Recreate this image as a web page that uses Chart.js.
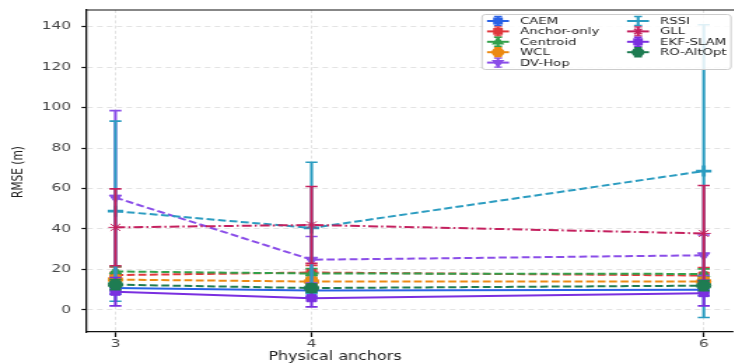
<!DOCTYPE html>
<html>
<head>
<meta charset="utf-8">
<script src="https://cdn.jsdelivr.net/npm/chart.js@4/dist/chart.umd.min.js"></script>
<style>
  html, body { margin: 0; padding: 0; background: #fff; overflow: hidden; }
  /* the figure is rendered narrow and widened horizontally */
  #wrap { position: relative; width: 532px; height: 363px; transform: scaleX(1.4); transform-origin: 0 0; }
</style>
</head>
<body>
<div id="wrap"><canvas id="c"></canvas></div>
<script>
const K = 1.4; // horizontal widening of the figure

// Number of physical anchors (x positions)
const anchors = [3, 4, 6];
const yTicks = [0, 20, 40, 60, 80, 100, 120, 140];

// Mean RMSE (m) and its standard deviation per method
const caemMean      = [10.8, 9.6, 10.0];
const caemStd       = [3.0, 3.0, 3.0];
const anchorMean    = [17.2, 18.5, 17.0];
const anchorStd     = [4.0, 3.5, 4.0];
const centroidMean  = [19.0, 18.0, 17.8];
const centroidStd   = [2.5, 2.5, 2.5];
const wclMean       = [15.0, 14.0, 14.0];
const wclStd        = [2.0, 2.0, 2.0];
const dvhopMean     = [55.5, 24.8, 27.0];
const dvhopStd      = [43.0, 11.5, 10.0];
const rssiMean      = [48.8, 40.5, 68.6];
const rssiStd       = [44.5, 32.5, 72.3];
const gllMean       = [40.8, 42.0, 37.8];
const gllStd        = [19.0, 19.0, 23.7];
const ekfMean       = [9.0, 5.8, 8.3];
const ekfStd        = [7.0, 4.3, 6.3];
const roMean        = [12.5, 10.8, 12.0];
const roStd         = [2.5, 2.0, 2.5];

const D = [5.7, 2.5];
const methods = [
  { name: 'CAEM',        mean: caemMean,     std: caemStd,     color: '#2a62e6', dash: [],             point: 'rect',     rot: 0 },
  { name: 'Anchor-only', mean: anchorMean,   std: anchorStd,   color: '#e0383c', dash: D,              point: 'rect',     rot: 0 },
  { name: 'Centroid',    mean: centroidMean, std: centroidStd, color: '#32a04a', dash: D,              point: 'triangle', rot: 0 },
  { name: 'WCL',         mean: wclMean,      std: wclStd,      color: '#ec8a12', dash: D,              point: 'circle',   rot: 0 },
  { name: 'DV-Hop',      mean: dvhopMean,    std: dvhopStd,    color: '#8a4de8', dash: D,              point: 'triangle', rot: 180 },
  { name: 'RSSI',        mean: rssiMean,     std: rssiStd,     color: '#2b9cc0', dash: D,              point: 'cross',    rot: 0 },
  { name: 'GLL',         mean: gllMean,      std: gllStd,      color: '#c4205e', dash: [7, 2.2, 1.5, 2.2], point: 'star', rot: 0 },
  { name: 'EKF-SLAM',    mean: ekfMean,      std: ekfStd,      color: '#7a2fe0', dash: [],             point: 'rect',     rot: 0 },
  { name: 'RO-AltOpt',   mean: roMean,       std: roStd,       color: '#1e7c52', dash: D,              point: 'circle',   rot: 0 }
];

const datasets = methods.map((m, i) => ({
  label: m.name,
  data: anchors.map((a, j) => ({ x: a, y: m.mean[j] })),
  err: m.std,
  borderColor: m.color,
  backgroundColor: m.color,
  borderWidth: 2,
  borderDash: m.dash,
  pointStyle: m.point,
  pointRotation: m.rot,
  pointRadius: m.point === 'cross' ? 5.5 : 5,
  pointBorderWidth: m.point === 'cross' ? 2.8 : 1,
  pointBackgroundColor: m.color,
  pointBorderColor: m.color,
  tension: 0,
  fill: false,
  order: methods.length - i
}));

// Vertical error bars with caps, drawn under each series' own line
const errorBars = {
  id: 'errorBars',
  beforeDatasetDraw(chart, args) {
    const ds = chart.data.datasets[args.index];
    const xs = chart.scales.x, ys = chart.scales.y, ca = chart.chartArea;
    const ctx = chart.ctx;
    const cap = 6 / K;
    ctx.save();
    ctx.beginPath();
    ctx.rect(ca.left, ca.top, ca.right - ca.left, ca.bottom - ca.top);
    ctx.clip();
    ctx.strokeStyle = ds.borderColor;
    ctx.setLineDash([]);
    ds.data.forEach((p, j) => {
      const x = xs.getPixelForValue(p.x);
      const lo = ys.getPixelForValue(p.y - ds.err[j]);
      const hi = ys.getPixelForValue(p.y + ds.err[j]);
      ctx.lineWidth = 2.1;
      ctx.beginPath();
      ctx.moveTo(x, lo); ctx.lineTo(x, hi);
      ctx.stroke();
      ctx.lineWidth = 1.6;
      ctx.beginPath();
      ctx.moveTo(x - cap, lo); ctx.lineTo(x + cap, lo);
      ctx.moveTo(x - cap, hi); ctx.lineTo(x + cap, hi);
      ctx.stroke();
    });
    ctx.restore();
  }
};

function drawMarker(ctx, m, x, y) {
  Chart.helpers.drawPoint(ctx, {
    pointStyle: m.point, rotation: m.rot,
    radius: m.point === 'cross' ? 4.2 : 3.9, borderWidth: m.point === 'cross' ? 2.4 : 1
  }, x, y);
}

// Frame top line, two-column legend and axis titles
const decorations = {
  id: 'decorations',
  afterDraw(chart) {
    const ctx = chart.ctx, ca = chart.chartArea;
    ctx.save();
    ctx.strokeStyle = '#111';
    ctx.lineWidth = 1.2;
    ctx.beginPath();
    ctx.moveTo(ca.left, ca.top); ctx.lineTo(chart.width, ca.top);
    ctx.stroke();

    // legend box
    const bx = 482 / K, by = 14, bw = 249 / K, bh = 55;
    ctx.fillStyle = 'rgba(255,255,255,0.85)';
    ctx.strokeStyle = '#cccccc';
    ctx.lineWidth = 1;
    ctx.beginPath();
    ctx.roundRect(bx, by + 0.5, bw, bh, 2.5);
    ctx.fill(); ctx.stroke();

    ctx.font = '9.5px "DejaVu Sans"';
    ctx.textBaseline = 'middle';
    ctx.textAlign = 'left';
    methods.forEach((m, i) => {
      const col = i < 5 ? 0 : 1;
      const row = i < 5 ? i : i - 5;
      const hx = (col === 0 ? 487 : 627) / K;
      const tx = (col === 0 ? 520 : 660) / K;
      const y = 21 + row * 10.4;
      const len = 22 / K;
      const cx = hx + len / 2;
      const cap = 4 / K;
      ctx.strokeStyle = m.color; ctx.fillStyle = m.color;
      ctx.setLineDash([]);
      ctx.lineWidth = 2;
      ctx.beginPath(); ctx.moveTo(hx, y); ctx.lineTo(hx + len, y); ctx.stroke();
      ctx.lineWidth = 2;
      ctx.beginPath(); ctx.moveTo(cx, y - 4.5); ctx.lineTo(cx, y + 4.5); ctx.stroke();
      ctx.lineWidth = 1.4;
      ctx.beginPath();
      ctx.moveTo(cx - cap, y - 4.5); ctx.lineTo(cx + cap, y - 4.5);
      ctx.moveTo(cx - cap, y + 4.5); ctx.lineTo(cx + cap, y + 4.5);
      ctx.stroke();
      drawMarker(ctx, m, cx, y);
      ctx.fillStyle = '#222';
      ctx.fillText(m.name, tx, y + 0.5);
    });

    // axis titles
    ctx.fillStyle = '#222';
    ctx.font = '11.4px "DejaVu Sans"';
    ctx.textAlign = 'center';
    ctx.textBaseline = 'alphabetic';
    ctx.fillText('Physical anchors', 335 / K, 360);

    ctx.translate(19 / K, 172);
    ctx.rotate(-Math.PI / 2);
    ctx.font = '10.6px "DejaVu Sans"';
    ctx.textBaseline = 'middle';
    ctx.fillText('RMSE (m)', 0, 0);
    ctx.restore();
  }
};

new Chart(document.getElementById('c'), {
  type: 'line',
  data: { datasets },
  options: {
    responsive: true,
    maintainAspectRatio: false,
    animation: false,
    layout: { padding: { left: 0, top: 10, right: 532 - 740 / K, bottom: 0 } },
    plugins: { legend: { display: false }, tooltip: { enabled: false } },
    scales: {
      x: {
        type: 'linear',
        min: 2.85, max: 6.15,
        afterBuildTicks: s => { s.ticks = anchors.map(v => ({ value: v })); },
        afterFit: s => { s.height = 31; s.paddingLeft = 0; s.paddingRight = 0; },
        grid: { color: '#dcdcdc', lineWidth: 0.8, tickColor: '#111', tickLength: 5, tickWidth: 1.2 },
        border: { color: '#111', width: 1.3, dash: [3, 2.2] },
        ticks: { color: '#444', font: { family: 'DejaVu Sans', size: 11 }, padding: 1, maxRotation: 0 }
      },
      y: {
        min: -10.9, max: 148.2,
        afterBuildTicks: s => { s.ticks = yTicks.map(v => ({ value: v })); },
        afterFit: s => { s.width = 86 / K; s.paddingTop = 0; s.paddingBottom = 0; },
        grid: { color: '#dcdcdc', lineWidth: 0.8, tickColor: '#111', tickLength: 3.2, tickWidth: 1.2 },
        border: { color: '#111', width: 1.3, dash: [4, 3] },
        ticks: { color: '#444', font: { family: 'DejaVu Sans', size: 11 }, padding: 7.5 }
      }
    }
  },
  plugins: [errorBars, decorations]
});
</script>
</body>
</html>
